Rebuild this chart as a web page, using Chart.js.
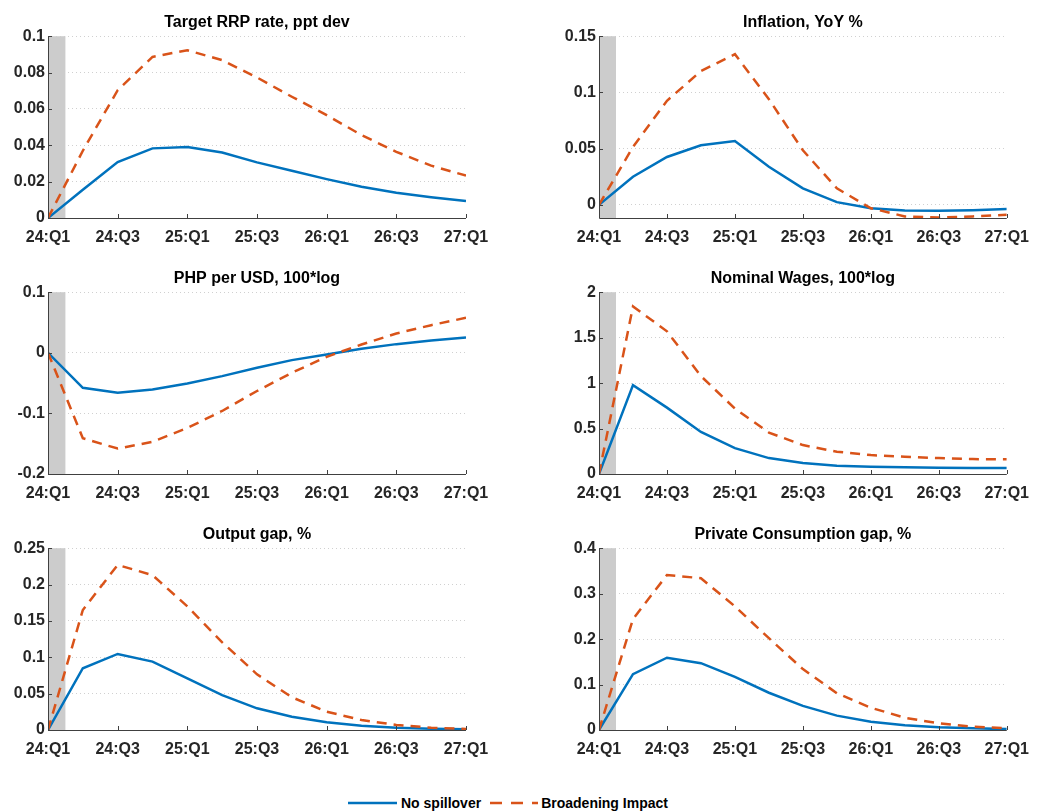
<!DOCTYPE html>
<html>
<head>
<meta charset="utf-8">
<script src="https://cdn.jsdelivr.net/npm/chart.js@4.4.0/dist/chart.umd.min.js"></script>
<style>
body { margin: 0; background: #fff; width: 1039px; height: 811px; overflow: hidden; position: relative;
  font-family: "Liberation Sans", Arial, Helvetica, sans-serif; }
.panel { position: absolute; height: 258px; }
.panel canvas { display: block; }
#legend { position: absolute; left: 348px; top: 795px; display: flex; align-items: center;
  font-size: 14px; font-weight: bold; color: #000; white-space: nowrap; }
#legend svg { display: block; }
</style>
</head>
<body>
<div class="panel" style="left:0;top:0;width:500px"><canvas id="c1"></canvas></div>
<div class="panel" style="left:551px;top:0;width:488px"><canvas id="c2"></canvas></div>
<div class="panel" style="left:0;top:256px;width:500px"><canvas id="c3"></canvas></div>
<div class="panel" style="left:551px;top:256px;width:488px"><canvas id="c4"></canvas></div>
<div class="panel" style="left:0;top:512px;width:500px"><canvas id="c5"></canvas></div>
<div class="panel" style="left:551px;top:512px;width:488px"><canvas id="c6"></canvas></div>

<div id="legend">
  <svg width="49" height="6"><line x1="0" y1="3" x2="49" y2="3" stroke="#0072BD" stroke-width="2.5"/></svg>
  <span style="margin-left:4px">No spillover</span>
  <svg width="48" height="6" style="margin-left:9px"><line x1="0" y1="3" x2="48" y2="3" stroke="#D95319" stroke-width="2.5" stroke-dasharray="12 9"/></svg>
  <span style="margin-left:3px">Broadening Impact</span>
</div>

<script>
const quarters = ['24:Q1','24:Q2','24:Q3','24:Q4','25:Q1','25:Q2','25:Q3','25:Q4','26:Q1','26:Q2','26:Q3','26:Q4','27:Q1'];
const xTicks = [0, 2, 4, 6, 8, 10, 12];
const seriesNames = ['No spillover', 'Broadening Impact'];

// Target RRP rate, ppt dev
const rrpBase  = [0, 0.0155, 0.0308, 0.0383, 0.039, 0.036, 0.0306, 0.026, 0.0214, 0.0172, 0.0139, 0.0114, 0.0093];
const rrpBroad = [0, 0.037, 0.0703, 0.0886, 0.0923, 0.0868, 0.0773, 0.0667, 0.0566, 0.0456, 0.0364, 0.0288, 0.0233];
const rrpTicks = [0, 0.02, 0.04, 0.06, 0.08, 0.1];

// Inflation, YoY %
const inflBase  = [0, 0.025, 0.0426, 0.053, 0.0568, 0.0338, 0.0147, 0.0024, -0.003, -0.005, -0.0053, -0.0047, -0.0038];
const inflBroad = [0, 0.0515, 0.0926, 0.119, 0.134, 0.094, 0.0485, 0.0147, -0.003, -0.0103, -0.0113, -0.0103, -0.0088];
const inflTicks = [0, 0.05, 0.1, 0.15];

// PHP per USD, 100*log
const phpBase  = [0, -0.0577, -0.066, -0.0604, -0.0505, -0.0385, -0.0247, -0.0121, -0.0027, 0.0066, 0.0143, 0.0203, 0.0253];
const phpBroad = [0, -0.141, -0.158, -0.147, -0.124, -0.096, -0.063, -0.033, -0.0066, 0.0137, 0.0319, 0.0456, 0.0577];
const phpTicks = [-0.2, -0.1, 0, 0.1];

// Nominal Wages, 100*log
const wageBase  = [0, 0.978, 0.73, 0.463, 0.285, 0.175, 0.12, 0.091, 0.08, 0.073, 0.069, 0.066, 0.065];
const wageBroad = [0, 1.843, 1.57, 1.077, 0.719, 0.456, 0.318, 0.245, 0.208, 0.19, 0.175, 0.164, 0.161];
const wageTicks = [0, 0.5, 1, 1.5, 2];

// Output gap, %
const gapBase  = [0, 0.0849, 0.1046, 0.094, 0.0711, 0.048, 0.0298, 0.0183, 0.0106, 0.006, 0.0032, 0.0018, 0.001];
const gapBroad = [0, 0.165, 0.227, 0.213, 0.17, 0.1206, 0.0766, 0.045, 0.0252, 0.0138, 0.0069, 0.0032, 0.0014];
const gapTicks = [0, 0.05, 0.1, 0.15, 0.2, 0.25];

// Private Consumption gap, %
const consBase  = [0, 0.123, 0.159, 0.147, 0.117, 0.082, 0.053, 0.0316, 0.018, 0.0103, 0.0059, 0.0037, 0.002];
const consBroad = [0, 0.244, 0.341, 0.334, 0.272, 0.202, 0.134, 0.081, 0.049, 0.027, 0.0147, 0.0073, 0.0037];
const consTicks = [0, 0.1, 0.2, 0.3, 0.4];

const panels = [
  {id: 'c1', title: 'Target RRP rate, ppt dev', base: rrpBase, broad: rrpBroad, ticks: rrpTicks, min: 0, max: 0.1, left: true},
  {id: 'c2', title: 'Inflation, YoY %', base: inflBase, broad: inflBroad, ticks: inflTicks, min: -0.0117, max: 0.15},
  {id: 'c3', title: 'PHP per USD, 100*log', base: phpBase, broad: phpBroad, ticks: phpTicks, min: -0.2, max: 0.1, left: true},
  {id: 'c4', title: 'Nominal Wages, 100*log', base: wageBase, broad: wageBroad, ticks: wageTicks, min: 0, max: 2},
  {id: 'c5', title: 'Output gap, %', base: gapBase, broad: gapBroad, ticks: gapTicks, min: 0, max: 0.25, left: true},
  {id: 'c6', title: 'Private Consumption gap, %', base: consBase, broad: consBroad, ticks: consTicks, min: 0, max: 0.4}
];

const FONT = '"Liberation Sans", Arial, Helvetica, sans-serif';
const AXIS = '#404040';

// grey shock band over the first half quarter
const shadePlugin = {
  id: 'shade',
  beforeDatasetsDraw(chart) {
    const {ctx, chartArea, scales} = chart;
    const x0 = scales.x.getPixelForValue(0);
    const x1 = scales.x.getPixelForValue(0.5);
    ctx.save();
    ctx.fillStyle = '#cccccc';
    ctx.fillRect(x0, chartArea.top, x1 - x0, chartArea.bottom - chartArea.top);
    ctx.restore();
  }
};

// matlab style axes: inward tick marks
const tickPlugin = {
  id: 'inTicks',
  afterDraw(chart) {
    const {ctx, chartArea, scales} = chart;
    ctx.save();
    ctx.strokeStyle = AXIS;
    ctx.lineWidth = 1;
    ctx.beginPath();
    ctx.moveTo(chartArea.left + 0.5, chartArea.top);
    ctx.lineTo(chartArea.left + 0.5, chartArea.bottom + 0.5);
    ctx.lineTo(chartArea.right, chartArea.bottom + 0.5);
    scales.x.ticks.forEach(t => {
      const px = Math.round(scales.x.getPixelForValue(t.value)) + 0.5;
      ctx.moveTo(px, chartArea.bottom);
      ctx.lineTo(px, chartArea.bottom - 4);
    });
    scales.y.ticks.forEach(t => {
      const py = Math.round(scales.y.getPixelForValue(t.value)) + 0.5;
      ctx.moveTo(chartArea.left, py);
      ctx.lineTo(chartArea.left + 4, py);
    });
    ctx.stroke();
    ctx.restore();
  }
};

panels.forEach(p => {
  new Chart(document.getElementById(p.id), {
    type: 'line',
    data: {
      datasets: [
        {
          label: seriesNames[0],
          data: p.base.map((v, i) => ({x: i, y: v})),
          borderColor: '#0072BD',
          borderWidth: 2.5,
          pointRadius: 0,
          tension: 0,
          order: 1
        },
        {
          label: seriesNames[1],
          data: p.broad.map((v, i) => ({x: i, y: v})),
          borderColor: '#D95319',
          borderWidth: 2.5,
          borderDash: [10, 7],
          pointRadius: 0,
          tension: 0,
          order: 0
        }
      ]
    },
    options: {
      responsive: true,
      maintainAspectRatio: false,
      animation: false,
      layout: {padding: {left: 0, right: p.left ? 34 : 23, top: 0, bottom: 0}},
      plugins: {
        legend: {display: false},
        tooltip: {enabled: false},
        title: {
          display: true,
          text: p.title,
          fullSize: false,
          color: '#000',
          font: {family: FONT, size: 16, weight: 'bold'},
          padding: {top: 13, bottom: 4}
        }
      },
      scales: {
        x: {
          type: 'linear',
          min: 0,
          max: quarters.length - 1,
          afterBuildTicks: s => { s.ticks = xTicks.map(v => ({value: v})); },
          afterFit: s => { s.height = 40; },
          grid: {display: true, drawOnChartArea: false, drawTicks: false},
          border: {display: false},
          ticks: {
            color: '#262626',
            font: {family: FONT, size: 16, weight: 'bold'},
            padding: 10,
            maxRotation: 0,
            autoSkip: false,
            callback: v => quarters[v]
          }
        },
        y: {
          min: p.min,
          max: p.max,
          afterBuildTicks: s => { s.ticks = p.ticks.map(v => ({value: v})); },
          afterFit: s => { s.width = 48; },
          grid: {color: '#d0d0d0', lineWidth: 1, drawTicks: false},
          border: {display: false, dash: [1, 3]},
          ticks: {
            color: '#262626',
            font: {family: FONT, size: 16, weight: 'bold'},
            padding: 3,
            callback: v => String(v)
          }
        }
      }
    },
    plugins: [shadePlugin, tickPlugin]
  });
});
</script>
</body>
</html>
